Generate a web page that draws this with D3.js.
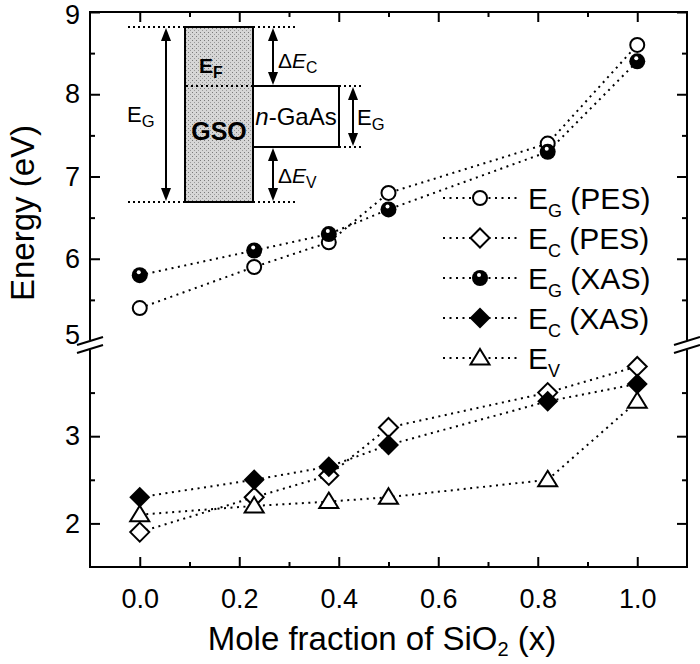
<!DOCTYPE html>
<html><head><meta charset="utf-8">
<script src="https://cdn.jsdelivr.net/npm/d3@7"></script>
<style>
html,body{margin:0;padding:0;background:#fff;}
svg{display:block;font-family:'Liberation Sans',Arial,Helvetica,sans-serif;}
</style></head>
<body>
<svg id="chart" width="700" height="664"></svg>
<script>
// ---------- data ----------
const xValues   = [0, 0.23, 0.38, 0.5, 0.82, 1.0];
const egPES     = [5.4, 5.9, 6.2, 6.8, 7.4, 8.6];
const ecPES     = [1.9, 2.3, 2.55, 3.1, 3.5, 3.8];
const egXAS     = [5.8, 6.1, 6.3, 6.6, 7.3, 8.4];
const ecXAS     = [2.3, 2.5, 2.65, 2.9, 3.4, 3.6];
const evVals    = [2.1, 2.2, 2.25, 2.3, 2.5, 3.4];
const seriesNames = [["E","G"," (PES)"],["E","C"," (PES)"],["E","G"," (XAS)"],["E","C"," (XAS)"],["E","V",""]];
const xTicks = [0, 0.2, 0.4, 0.6, 0.8, 1.0];
const xMinorTicks = [0.1, 0.3, 0.5, 0.7, 0.9];
const yTicksUpper = [5, 6, 7, 8, 9];
const yMinorUpper = [5.5, 6.5, 7.5, 8.5];
const yTicksLower = [2, 3];
const yMinorLower = [2.5, 3.5];

// ---------- layout ----------
const L = 90, R = 687, T = 12, B = 567;
const svg = d3.select("#chart");
const x = d3.scaleLinear().domain([-0.1, 1.1]).range([L, R]);
const yUp = d3.scaleLinear().domain([5, 9]).range([341, T]);
const yLo = d3.scaleLinear().domain([1.5, 4]).range([B, 349]);
const y = v => v >= 4.5 ? yUp(v) : yLo(v);

// ---------- axes ----------
function styleAxis(g){
  g.select(".domain").remove();
  g.selectAll(".tick line").attr("stroke","#000").attr("stroke-width",2);
  g.selectAll(".tick text").attr("fill","#000").style("font-family","'Liberation Sans',Arial,sans-serif");
}
svg.append("g").attr("transform",`translate(0,${B})`)
  .call(d3.axisBottom(x).tickValues(xTicks).tickSize(-10).tickPadding(22).tickFormat(d3.format(".1f")))
  .call(styleAxis).selectAll("text").style("font-size","27px");
svg.append("g").attr("transform",`translate(0,${B})`)
  .call(d3.axisBottom(x).tickValues(xMinorTicks).tickSize(-5).tickFormat("")).call(styleAxis);
svg.append("g").attr("transform",`translate(0,${T})`)
  .call(d3.axisTop(x).tickValues(xTicks).tickSize(-10).tickFormat("")).call(styleAxis);
svg.append("g").attr("transform",`translate(0,${T})`)
  .call(d3.axisTop(x).tickValues(xMinorTicks).tickSize(-5).tickFormat("")).call(styleAxis);

const leftUp = svg.append("g").attr("transform",`translate(${L},0)`)
  .call(d3.axisLeft(yUp).tickValues(yTicksUpper).tickSize(-10).tickPadding(10).tickFormat(d3.format("d")))
  .call(styleAxis);
leftUp.selectAll("text").style("font-size","27px");
leftUp.selectAll(".tick").filter(d => d === 5).select("line").remove();
leftUp.selectAll(".tick").filter(d => d === 5).select("text").attr("y",-6);
leftUp.selectAll(".tick").filter(d => d === 9).select("text").attr("y",3);
svg.append("g").attr("transform",`translate(${L},0)`)
  .call(d3.axisLeft(yUp).tickValues(yMinorUpper).tickSize(-5).tickFormat("")).call(styleAxis);
svg.append("g").attr("transform",`translate(${L},0)`)
  .call(d3.axisLeft(yLo).tickValues(yTicksLower).tickSize(-10).tickPadding(10).tickFormat(d3.format("d")))
  .call(styleAxis).selectAll("text").style("font-size","27px");
svg.append("g").attr("transform",`translate(${L},0)`)
  .call(d3.axisLeft(yLo).tickValues(yMinorLower).tickSize(-5).tickFormat("")).call(styleAxis);

svg.append("g").attr("transform",`translate(${R},0)`)
  .call(d3.axisRight(yUp).tickValues(yTicksUpper.filter(v=>v!==5)).tickSize(-10).tickFormat("")).call(styleAxis);
svg.append("g").attr("transform",`translate(${R},0)`)
  .call(d3.axisRight(yUp).tickValues(yMinorUpper).tickSize(-5).tickFormat("")).call(styleAxis);
svg.append("g").attr("transform",`translate(${R},0)`)
  .call(d3.axisRight(yLo).tickValues(yTicksLower).tickSize(-10).tickFormat("")).call(styleAxis);
svg.append("g").attr("transform",`translate(${R},0)`)
  .call(d3.axisRight(yLo).tickValues(yMinorLower).tickSize(-5).tickFormat("")).call(styleAxis);

// frame with breaks
const frame = svg.append("g").attr("stroke","#000").attr("stroke-width",2).attr("fill","none");
frame.append("line").attr("x1",L-1).attr("x2",R+1).attr("y1",T).attr("y2",T);
frame.append("line").attr("x1",L-1).attr("x2",R+1).attr("y1",B).attr("y2",B);
[L,R].forEach(xx=>{
  frame.append("line").attr("x1",xx).attr("x2",xx).attr("y1",T).attr("y2",yUp(5)-1);
  frame.append("line").attr("x1",xx).attr("x2",xx).attr("y1",yLo(4)+1).attr("y2",B);
  frame.append("line").attr("x1",xx-13).attr("y1",yUp(5)+4).attr("x2",xx+13).attr("y2",yUp(5)-4);
  frame.append("line").attr("x1",xx-13).attr("y1",yLo(4)+4).attr("x2",xx+13).attr("y2",yLo(4)-4);
});

// ---------- titles ----------
svg.append("text").attr("transform","translate(34,213) rotate(-90)")
  .attr("text-anchor","middle").style("font-size","33px").text("Energy (eV)");
const xt = svg.append("text").attr("x",382).attr("y",650).attr("text-anchor","middle").style("font-size","33px");
xt.append("tspan").text("Mole fraction of SiO");
xt.append("tspan").attr("dy",6).style("font-size","20px").text("2");
xt.append("tspan").attr("dy",-6).text(" (x)");

// ---------- markers ----------
const diamond = h => `M0,${-h}L${h},0L0,${h}L${-h},0Z`;
const triangle = `M0,-9L9.5,6.5L-9.5,6.5Z`;
function drawMarker(g, type){
  if(type==="oc") g.append("circle").attr("r",7).attr("fill","#fff").attr("stroke","#000").attr("stroke-width",2);
  if(type==="fc"){ g.append("circle").attr("r",8).attr("fill","#000");
                   g.append("circle").attr("r",2).attr("cx",-1).attr("cy",-3).attr("fill","#fff"); }
  if(type==="od") g.append("path").attr("d",diamond(9.5)).attr("fill","#fff").attr("stroke","#000").attr("stroke-width",2);
  if(type==="fd") g.append("path").attr("d",diamond(10.5)).attr("fill","#000");
  if(type==="ot") g.append("path").attr("d",triangle).attr("fill","#fff").attr("stroke","#000").attr("stroke-width",2);
}
const series = [
  {vals: egPES, m:"oc"}, {vals: ecPES, m:"od"}, {vals: egXAS, m:"fc"}, {vals: ecXAS, m:"fd"}, {vals: evVals, m:"ot"}
];
const line = d3.line().x(d=>x(d[0])).y(d=>y(d[1]));
series.forEach(s=>{
  const pts = xValues.map((xv,i)=>[xv, s.vals[i]]);
  svg.append("path").datum(pts).attr("d",line).attr("fill","none").attr("stroke","#000")
    .attr("stroke-width",2).attr("stroke-dasharray","2,4.5");
});
series.forEach(s=>{
  xValues.forEach((xv,i)=>{
    const g = svg.append("g").attr("transform",`translate(${x(xv)},${y(s.vals[i])})`);
    drawMarker(g, s.m);
  });
});

// ---------- legend ----------
const lg = svg.append("g");
series.forEach((s,i)=>{
  const cy = 198 + i*40;
  lg.append("line").attr("x1",443).attr("x2",517).attr("y1",cy).attr("y2",cy)
    .attr("stroke","#000").attr("stroke-width",2).attr("stroke-dasharray","2,4.5");
  const g = lg.append("g").attr("transform",`translate(480,${cy})`);
  drawMarker(g, s.m);
  const t = lg.append("text").attr("x",528).attr("y",cy+11).style("font-size","30px");
  const nm = seriesNames[i];
  t.append("tspan").text(nm[0]);
  t.append("tspan").attr("dy",8).style("font-size","18px").text(nm[1]);
  t.append("tspan").attr("dy",-8).text(nm[2]);
});

// ---------- inset band diagram ----------
const ins = svg.append("g");
const defs = svg.append("defs");
const pat = defs.append("pattern").attr("id","stip").attr("width",4).attr("height",4).attr("patternUnits","userSpaceOnUse");
pat.append("rect").attr("width",4).attr("height",4).attr("fill","#d6d6d6");
pat.append("rect").attr("x",0).attr("y",0).attr("width",1).attr("height",1).attr("fill","#7a7a7a");
pat.append("rect").attr("x",2).attr("y",2).attr("width",1).attr("height",1).attr("fill","#9a9a9a");

const dotted = (x1,y1,x2,y2) => ins.append("line").attr("x1",x1).attr("y1",y1).attr("x2",x2).attr("y2",y2)
  .attr("stroke","#000").attr("stroke-width",2).attr("stroke-dasharray","2,3");
dotted(128,27,185,27); dotted(253,27,298,27);
dotted(128,202,185,202); dotted(253,202,298,202);
ins.append("rect").attr("x",185).attr("y",27).attr("width",68).attr("height",175)
  .attr("fill","url(#stip)").attr("stroke","#000").attr("stroke-width",2);
dotted(186,86,252,86);
ins.append("rect").attr("x",253).attr("y",86).attr("width",86).attr("height",61)
  .attr("fill","#fff").attr("stroke","#000").attr("stroke-width",2);
dotted(339,86,362,86); dotted(339,147,362,147);

function arrow(xx, y1, y2){
  ins.append("line").attr("x1",xx).attr("x2",xx).attr("y1",y1+8).attr("y2",y2-8).attr("stroke","#000").attr("stroke-width",2);
  ins.append("path").attr("d",`M${xx},${y1}L${xx-5},${y1+13}L${xx+5},${y1+13}Z`).attr("fill","#000");
  ins.append("path").attr("d",`M${xx},${y2}L${xx-5},${y2-13}L${xx+5},${y2-13}Z`).attr("fill","#000");
}
arrow(166,28,201); arrow(273,28,85); arrow(273,148,201); arrow(353,87,146);

function label(xx, yy, parts, size){
  const t = ins.append("text").attr("x",xx).attr("y",yy).style("font-size",size+"px");
  parts.forEach(p=>{
    const ts = t.append("tspan").text(p.t);
    if(p.sub){ ts.attr("dy",5).style("font-size",(size*0.75)+"px"); }
    if(p.it) ts.style("font-style","italic");
    if(p.b) ts.style("font-weight","bold");
  });
  return t;
}
label(127,122,[{t:"E"},{t:"G",sub:true}],22);
label(199,73,[{t:"E",b:true},{t:"F",sub:true,b:true}],21);
ins.append("text").attr("x",219).attr("y",140).attr("text-anchor","middle")
  .style("font-size","25px").style("font-weight","bold").text("GSO");
const ng = ins.append("text").attr("x",296).attr("y",125).attr("text-anchor","middle").style("font-size","24px");
ng.append("tspan").style("font-style","italic").text("n");
ng.append("tspan").text("-GaAs");
label(278,68,[{t:"Δ"},{t:"E",it:true},{t:"C",sub:true}],21);
label(357,125,[{t:"E"},{t:"G",sub:true}],22);
label(278,183,[{t:"Δ"},{t:"E",it:true},{t:"V",sub:true}],21);
</script>
</body></html>
